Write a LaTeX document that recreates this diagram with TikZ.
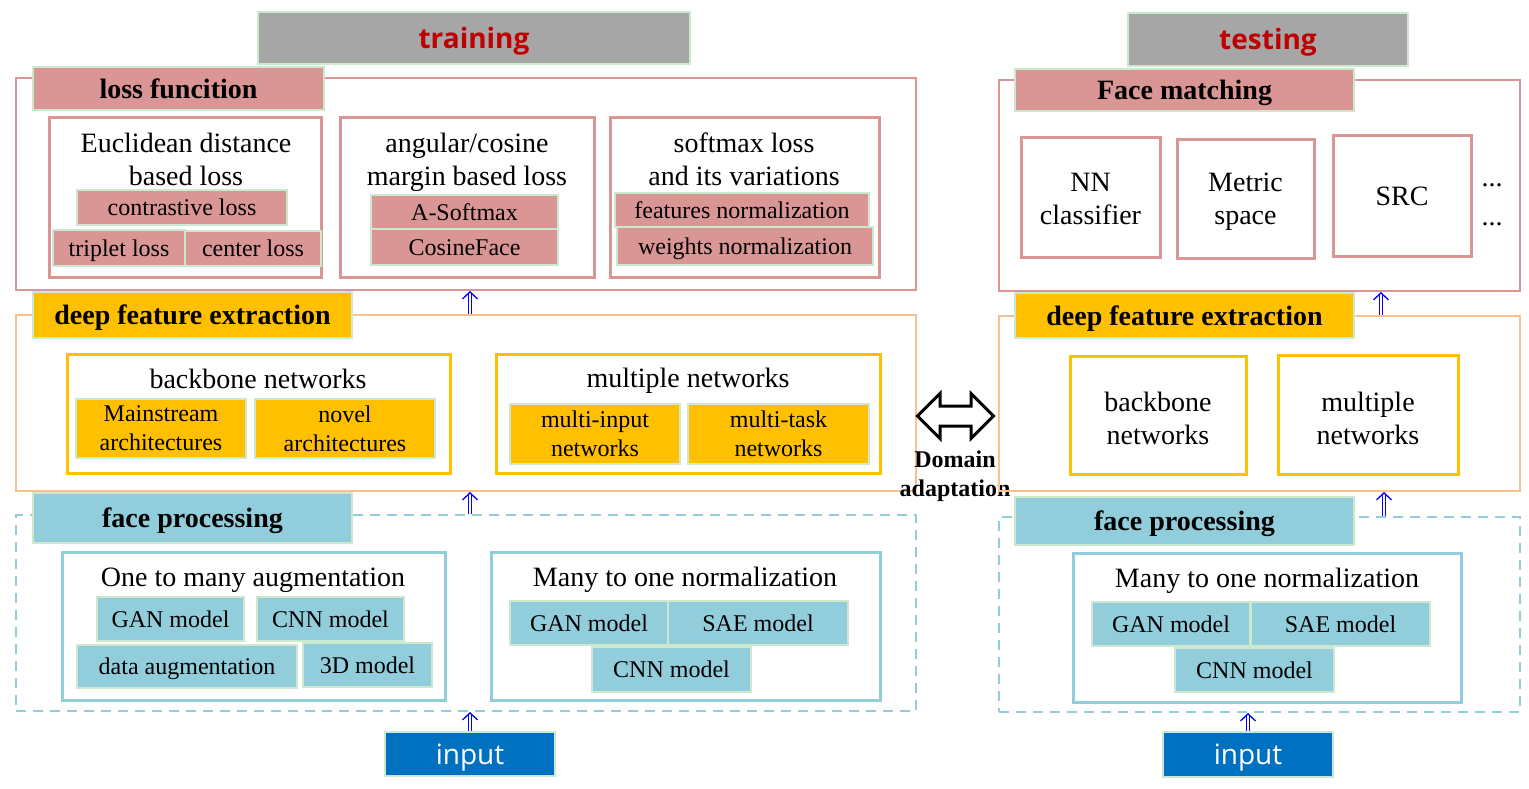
\documentclass[tikz,border=0pt]{standalone}
\usepackage{fontspec}
\setmainfont{Liberation Serif}
\newfontfamily\headfont{Open Sans}
\usetikzlibrary{arrows.meta,shapes.arrows}

\definecolor{rose}{RGB}{217,150,148}
\definecolor{mint}{RGB}{204,232,207}
\definecolor{peach}{RGB}{250,192,144}
\definecolor{amber}{RGB}{255,192,0}
\definecolor{sky}{RGB}{146,205,220}
\definecolor{inblue}{RGB}{0,112,192}
\definecolor{headgray}{RGB}{166,166,166}
\definecolor{headred}{RGB}{192,0,0}

\begin{document}
\begin{tikzpicture}[x=1pt,y=-1pt,
	wh/.style 2 args={minimum width=#1pt,minimum height=#2pt},
	big/.style={font=\fontsize{28}{33}\selectfont,align=center,inner sep=0},
	small/.style={font=\fontsize{24}{29}\selectfont,align=center,inner sep=0},
	head/.style={fill=headgray,draw=mint,line width=2.5pt,text=headred,inner sep=0,
		text height=20pt,text depth=0pt,font=\headfont\bfseries\fontsize{28}{33}\selectfont},
	frame/.style={draw=#1,line width=2pt,inner sep=0},
	tag/.style={fill=#1,draw=mint,line width=2.5pt,inner sep=0,
		text height=19pt,text depth=0pt,font=\bfseries\fontsize{28}{33}\selectfont},
	cell/.style={draw=#1,line width=3pt,fill=white,inner sep=0},
	item/.style={small,fill=#1,draw=mint,line width=2.5pt,text height=16.5pt,text depth=0pt},
	itemtwo/.style={small,fill=#1,draw=mint,line width=2.5pt},
	inbox/.style={fill=inblue,draw=mint,line width=2.5pt,text=white,inner sep=0,
		text height=20pt,text depth=0pt,font=\headfont\fontsize{28}{33}\selectfont},
	up/.style={draw=blue,double=white,double distance=2.4pt,line width=1.1pt,
		-{Straight Barb[length=7pt,width=15pt,line width=1.3pt]}}]

	\useasboundingbox (0,0) rectangle (1529,788);

	%% Headers
	\node [head,wh={432}{52}] (train) at (474,38) {training};
	\node [head,wh={280}{53}] (test) at (1268,39.5) {testing};

	%% Training: loss function
	\node [frame=rose,wh={900}{212}] (lossL) at (466,184) {};
	\node [tag=rose,wh={291}{43}] (lossLab) at (178.5,88.5) {loss funcition};
	\node [cell=rose,wh={272}{160}] (eucl) at (185,197) {};
	\node [big] (euclT) at (186,159) {Euclidean distance\\based loss};
	\node [item=rose,wh={210}{35}] (contr) at (182,207.5) {contrastive loss};
	\node [item=rose,wh={132}{36}] (trip) at (119,248) {triplet loss};
	\node [item=rose,wh={136}{35}] (cent) at (253,248.5) {center loss};
	\node [cell=rose,wh={254}{160}] (ang) at (467,197) {};
	\node [big] (angT) at (467,162) {angular/cosine\\margin based loss};
	\node [item=rose,wh={187}{34}] (asoft) at (464.5,212) {A-Softmax};
	\node [item=rose,wh={187}{36}] (cosf) at (464.5,247) {CosineFace};
	\node [cell=rose,wh={269}{160}] (soft) at (744.5,197) {};
	\node [big] (softT) at (744,159) {softmax loss\\and its variations};
	\node [item=rose,wh={254}{34}] (featn) at (742,210) {features normalization};
	\node [item=rose,wh={256}{38}] (weightn) at (745,246) {weights normalization};

	%% Training: deep feature extraction
	\node [frame=peach,wh={900}{176}] (dfeL) at (466,403) {};
	\node [tag=amber,wh={319}{46}] (dfeLab) at (192.5,315) {deep feature extraction};
	\node [cell=amber,wh={383}{119}] (bb) at (258.5,413.5) {};
	\node [big] (bbT) at (258,379) {backbone networks};
	\node [itemtwo=amber,wh={170}{59}] (mainst) at (161,428.5) {Mainstream\\architectures};
	\node [itemtwo=amber,wh={180}{59}] (novel) at (345,428.5) {novel\\architectures};
	\node [cell=amber,wh={384}{119}] (mn) at (688,413.5) {};
	\node [big] (mnT) at (688,381) {multiple networks};
	\node [itemtwo=amber,wh={170}{60}] (minput) at (595,434) {multi-input\\networks};
	\node [itemtwo=amber,wh={181}{60}] (mtask) at (778.5,434) {multi-task\\networks};

	%% Training: face processing
	\node [frame=sky,dash pattern=on 10pt off 7pt,wh={900}{196}] (fpL) at (466,613) {};
	\node [tag=sky,wh={319}{50}] (fpLab) at (192.5,518) {face processing};
	\node [cell=sky,wh={383}{148}] (otm) at (253.5,626) {};
	\node [big] (otmT) at (253,580) {One to many augmentation};
	\node [item=sky,wh={147}{44}] (ganA) at (170.5,619) {GAN model};
	\node [item=sky,wh={147}{44}] (cnnA) at (330.5,619) {CNN model};
	\node [item=sky,wh={220}{43}] (dataA) at (187,666.5) {data augmentation};
	\node [item=sky,wh={129}{44}] (threeD) at (367.5,665) {3D model};
	\node [cell=sky,wh={389}{148}] (mtoL) at (685.5,626) {};
	\node [big] (mtoLT) at (685,580) {Many to one normalization};
	\node [item=sky,wh={158}{44}] (ganL) at (589,623) {GAN model};
	\node [item=sky,wh={180}{44}] (saeL) at (758,623) {SAE model};
	\node [item=sky,wh={159}{45}] (cnnL) at (671.5,669.5) {CNN model};
	\node [inbox,wh={170}{44}] (inL) at (470,754) {input};

	%% Domain adaptation
	\node [double arrow,draw=black,line width=3pt,fill=white,minimum height=76pt,
		inner xsep=0,inner ysep=8.5pt,double arrow head extend=12.5pt] (da) at (955.5,416) {};
	\node [font=\bfseries\fontsize{24}{29}\selectfont,align=center,inner sep=0] (daT) at (955,476) {Domain\\adaptation};

	%% Testing: face matching
	\node [frame=rose,wh={521}{211}] (fmR) at (1259.5,185.5) {};
	\node [tag=rose,wh={339}{42}] (fmLab) at (1184.5,90) {Face matching};
	\node [cell=rose,wh={139}{120}] (nn) at (1090.5,197) {};
	\node [big] (nnT) at (1090.5,199) {NN\\classifier};
	\node [cell=rose,wh={137}{119}] (metric) at (1245.5,198.5) {};
	\node [big] (metricT) at (1245.5,202) {Metric\\space};
	\node [cell=rose,wh={138}{121}] (src) at (1402,195.5) {};
	\node [big] (srcT) at (1402,196) {SRC};
	\node [big,anchor=base] (dotsA) at (1492,186) {...};
	\node [big,anchor=base] (dotsB) at (1492,225) {...};

	%% Testing: deep feature extraction
	\node [frame=peach,wh={521}{175}] (dfeR) at (1259.5,403.5) {};
	\node [tag=amber,wh={339}{45}] (dfeRLab) at (1184.5,315.5) {deep feature extraction};
	\node [cell=amber,wh={176}{118}] (bbR) at (1158,415) {};
	\node [big] (bbRT) at (1158,418) {backbone\\networks};
	\node [cell=amber,wh={180}{119}] (mnR) at (1368,414.5) {};
	\node [big] (mnRT) at (1368,418) {multiple\\networks};

	%% Testing: face processing
	\node [frame=sky,dash pattern=on 10pt off 7pt,wh={521}{195}] (fpR) at (1259.5,614.5) {};
	\node [tag=sky,wh={339}{48}] (fpRLab) at (1184.5,521) {face processing};
	\node [cell=sky,wh={388}{149}] (mtoR) at (1267,627.5) {};
	\node [big] (mtoRT) at (1267,581) {Many to one normalization};
	\node [item=sky,wh={158}{44}] (ganR) at (1171,624) {GAN model};
	\node [item=sky,wh={179}{44}] (saeR) at (1340.5,624) {SAE model};
	\node [item=sky,wh={159}{44}] (cnnR) at (1254.5,670) {CNN model};
	\node [inbox,wh={170}{45}] (inR) at (1248,754.5) {input};

	%% Flow arrows
	\coordinate (rA) at (1384,0);
	\coordinate (rB) at (1381,0);
	\draw [up] (inL.north) -- (inL.north |- fpL.south);
	\draw [up] (inL.north |- fpL.north) -- (inL.north |- dfeL.south);
	\draw [up] (inL.north |- dfeL.north) -- (inL.north |- lossL.south);
	\draw [up] (inR.north) -- (inR.north |- fpR.south);
	\draw [up] (rA |- fpR.north) -- (rA |- dfeR.south);
	\draw [up] (rB |- dfeR.north) -- (rB |- fmR.south);
\end{tikzpicture}
\end{document}
